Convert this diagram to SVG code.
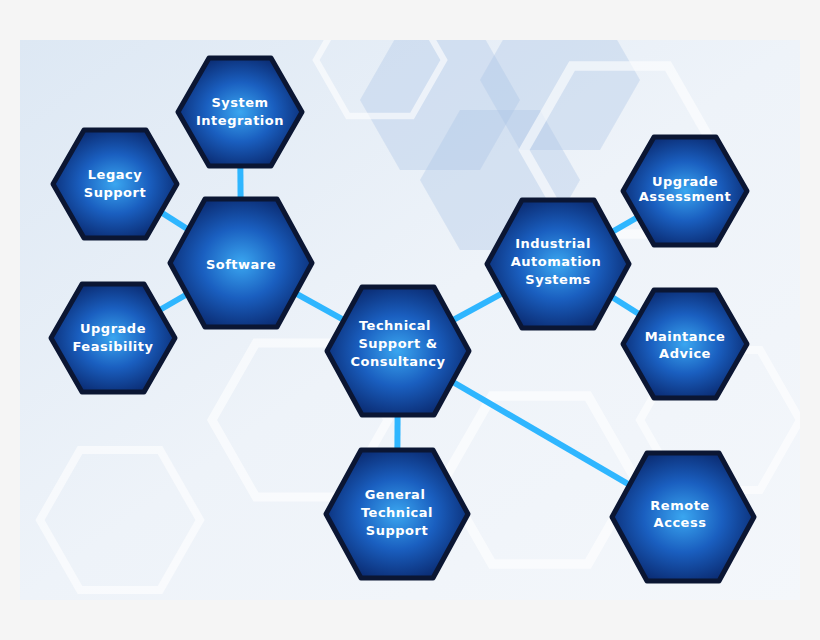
<svg xmlns="http://www.w3.org/2000/svg" width="820" height="640" viewBox="0 0 820 640">
<style>
.hex{stroke:#0b1633;stroke-width:5;stroke-linejoin:round}
.lbl{font-family:"DejaVu Sans",sans-serif;font-weight:bold;font-size:13px;fill:#fff;text-anchor:middle;letter-spacing:0.5px}
.con line{stroke:#2fb6ff;stroke-width:6}
.bg{fill:none;stroke:#ffffff;stroke-width:8;opacity:0.6}
.bgf{fill:#a8c4e6;opacity:0.35}
</style>
<defs>
<radialGradient id="g" cx="50%" cy="50%" r="55%">
<stop offset="0" stop-color="#3aa6f0"/>
<stop offset="0.5" stop-color="#1a5fc0"/>
<stop offset="1" stop-color="#0a2a70"/>
</radialGradient>
<linearGradient id="bgg" x1="0" y1="0" x2="1" y2="1">
<stop offset="0" stop-color="#dde8f4"/>
<stop offset="0.5" stop-color="#eef3f9"/>
<stop offset="1" stop-color="#f4f7fb"/>
</linearGradient>
<clipPath id="panel"><rect x="20" y="40" width="780" height="560"/></clipPath>
<polygon id="hs" points="-62,0 -31,-54 31,-54 62,0 31,54 -31,54"/>
<polygon id="hb" points="-71,0 -36,-64 36,-64 71,0 36,64 -36,64"/>
<polygon id="bh" points="-80,0 -40,-70 40,-70 80,0 40,70 -40,70"/>
</defs>
<rect width="820" height="640" fill="#f5f5f5"/>
<rect x="20" y="40" width="780" height="560" fill="url(#bgg)"/>
<g clip-path="url(#panel)">
<use href="#bh" transform="translate(440,100)" class="bgf"/>
<use href="#bh" transform="translate(560,80)" class="bgf"/>
<use href="#bh" transform="translate(500,180)" class="bgf"/>
<use href="#bh" transform="translate(380,60) scale(0.8)" class="bg"/>
<use href="#bh" transform="translate(620,150) scale(1.2)" class="bg"/>
<use href="#bh" transform="translate(300,420) scale(1.1)" class="bg"/>
<use href="#bh" transform="translate(120,520) scale(1.0)" class="bg"/>
<use href="#bh" transform="translate(720,420) scale(1.0)" class="bg"/>
<use href="#bh" transform="translate(540,480) scale(1.2)" class="bg"/>
</g>
<g class="con">
<line x1="240" y1="112" x2="241" y2="263"/>
<line x1="115" y1="183" x2="241" y2="263"/>
<line x1="113" y1="337" x2="241" y2="263"/>
<line x1="241" y1="263" x2="398" y2="350"/>
<line x1="398" y1="350" x2="397" y2="512"/>
<line x1="398" y1="350" x2="558" y2="263"/>
<line x1="558" y1="263" x2="685" y2="190"/>
<line x1="558" y1="263" x2="685" y2="343"/>
<line x1="398" y1="350" x2="683" y2="516"/>
</g>
<g id="system-integration"><use href="#hs" transform="translate(240,112)" class="hex" fill="url(#g)"/><text class="lbl" x="240" y="107">System</text><text class="lbl" x="240" y="125">Integration</text></g>
<g id="legacy-support"><use href="#hs" transform="translate(115,184)" class="hex" fill="url(#g)"/><text class="lbl" x="115" y="179">Legacy</text><text class="lbl" x="115" y="197">Support</text></g>
<g id="software"><use href="#hb" transform="translate(241,263)" class="hex" fill="url(#g)"/><text class="lbl" x="241" y="269">Software</text></g>
<g id="upgrade-feasibility"><use href="#hs" transform="translate(113,338)" class="hex" fill="url(#g)"/><text class="lbl" x="113" y="333">Upgrade</text><text class="lbl" x="113" y="351">Feasibility</text></g>
<g id="technical-support"><use href="#hb" transform="translate(398,351)" class="hex" fill="url(#g)"/><text class="lbl" x="395" y="330">Technical</text><text class="lbl" x="398" y="348">Support &amp;</text><text class="lbl" x="398" y="366">Consultancy</text></g>
<g id="general-technical-support"><use href="#hb" transform="translate(397,514)" class="hex" fill="url(#g)"/><text class="lbl" x="395" y="499">General</text><text class="lbl" x="397" y="517">Technical</text><text class="lbl" x="397" y="535">Support</text></g>
<g id="industrial-automation"><use href="#hb" transform="translate(558,264)" class="hex" fill="url(#g)"/><text class="lbl" x="553" y="248">Industrial</text><text class="lbl" x="556" y="266">Automation</text><text class="lbl" x="558" y="284">Systems</text></g>
<g id="upgrade-assessment"><use href="#hs" transform="translate(685,191)" class="hex" fill="url(#g)"/><text class="lbl" x="685" y="186">Upgrade</text><text class="lbl" x="685" y="201">Assessment</text></g>
<g id="maintance-advice"><use href="#hs" transform="translate(685,344)" class="hex" fill="url(#g)"/><text class="lbl" x="685" y="341">Maintance</text><text class="lbl" x="685" y="358">Advice</text></g>
<g id="remote-access"><use href="#hb" transform="translate(683,517)" class="hex" fill="url(#g)"/><text class="lbl" x="680" y="510">Remote</text><text class="lbl" x="680" y="527">Access</text></g>
</svg>
